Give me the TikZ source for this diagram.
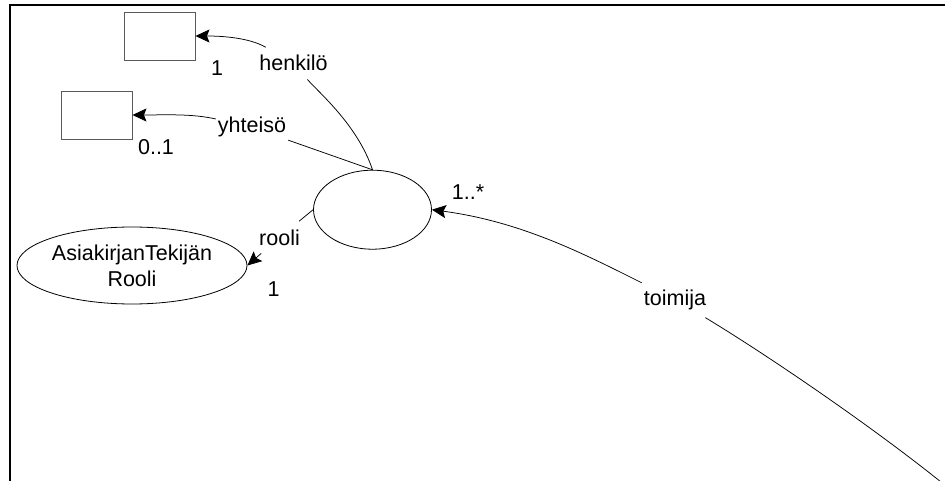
\documentclass[tikz,border=0pt]{standalone}
\usepackage{fontspec}
\setmainfont{Liberation Sans}
\usetikzlibrary{shapes.geometric,arrows.meta}
\definecolor{boxgray}{RGB}{90,90,90}
\begin{document}
\begin{tikzpicture}[x=1pt,y=-1pt,
  txt/.style={font=\fontsize{21.5}{26}\selectfont, inner sep=0pt},
  lbl/.style={txt, anchor=base},
  gap/.style={font=\fontsize{21.5}{26}\selectfont, inner xsep=2pt, inner ysep=8pt, anchor=base},
  cls/.style={draw=boxgray, line width=0.9pt, minimum width=71pt, minimum height=48pt, inner sep=0pt},
  ovalnode/.style={draw, ellipse, line width=0.8pt, inner sep=0pt},
  conn/.style={line width=0.75pt},
  arr/.style={conn, -{Stealth[length=14pt,width=13pt,inset=2.5pt]}},
  framestyle/.style={line width=2pt}
]
\useasboundingbox (0,0) rectangle (945,481);

% frame
\coordinate (fA) at (10,482);
\coordinate (fB) at (10,5);
\coordinate (fC) at (946,5);
\draw[framestyle] (fA) -- (fB) -- (fC);

% nodes
\node[cls] (b1) at (159.5,36) {};
\node[cls] (b2) at (96.5,115) {};
\node[ovalnode, minimum width=118pt, minimum height=79pt] (ell) at (372.5,209.7) {};
\node[ovalnode, minimum width=230pt, minimum height=77pt] (atr) at (132,265.5) {};
\node[txt, align=center] (atrtxt) at (atr) {AsiakirjanTekijän\\Rooli};

% association labels
\node[gap] (henk) at (293.5,71) {henkilö};
\node[gap] (yht) at (252,133) {yhteisö};
\node[gap] (toim) at (675,305) {toimija};
\node[gap] (rl) at (279.5,245) {rooli};

% multiplicities
\node[lbl] (m1) at (217,76) {1};
\node[lbl] (m2) at (156,155) {0..1};
\node[lbl] (m3) at (273.5,296) {1};
\node[lbl] (m4) at (468,200) {1..*};

% connectors
\coordinate (tend) at (941,482);
\draw[conn] (ell.north) .. controls +(-15,-45) and +(25,29) .. (henk);
\draw[arr] (henk) .. controls +(-45,-26) and +(25,0) .. (b1.east);

\draw[conn] (ell.north) -- (yht);
\draw[arr] (yht) .. controls +(-60,-14) and +(30,0) .. (b2.east);

\draw[conn] (ell.west) -- (rl);
\draw[arr] (rl) -- (atr.east);

\draw[arr] (toim) .. controls +(-90,-45) and +(90,12) .. (ell.east);
\draw[conn] (toim) .. controls +(80,48) and +(-80,-64) .. (tend);
\end{tikzpicture}
\end{document}
